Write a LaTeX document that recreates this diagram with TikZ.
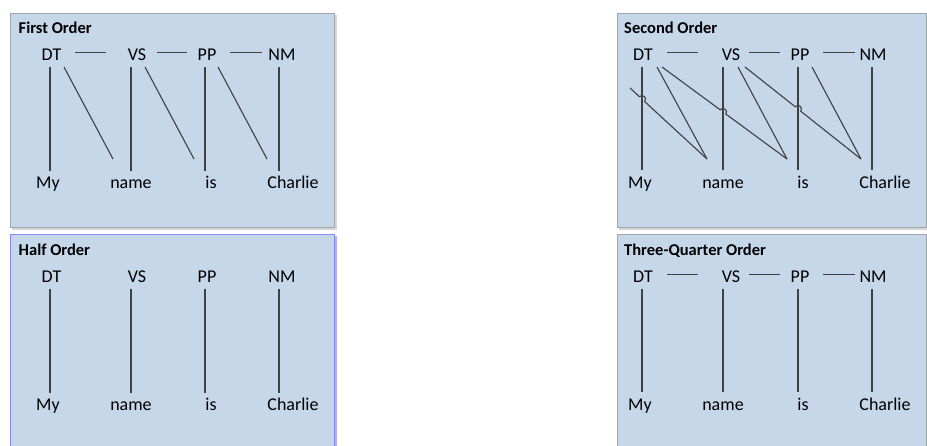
\documentclass[tikz,border=0pt]{standalone}
\usepackage{fontspec}
\setmainfont{Carlito}
\usetikzlibrary{calc}

\definecolor{panelfill}{RGB}{197,215,232}
\definecolor{panelrule}{RGB}{160,166,172}
\definecolor{panelshade}{RGB}{214,214,214}
\definecolor{halfrule}{RGB}{135,135,245}
\definecolor{halfshade}{RGB}{178,178,250}
\definecolor{inkline}{RGB}{64,64,64}

\tikzset{
  panel/.style={fill=panelfill, draw=panelrule, line width=0.8pt},
  halfpanel/.style={fill=panelfill, draw=halfrule, line width=0.8pt},
  paneltitle/.style={anchor=base west, inner sep=0pt, font=\fontsize{16.5}{19}\selectfont\bfseries},
  tag/.style={anchor=base, inner sep=0pt, font=\fontsize{18}{21}\selectfont},
  word/.style={tag},
  link/.style={draw=inkline, line width=1.1pt},
}

\begin{document}
\begin{tikzpicture}[x=1pt,y=-1pt]
\useasboundingbox (0,0) rectangle (927,445);
\fill[white] (0,0) rectangle (927,445);
\clip (0,0) rectangle (927,445);

% ---------- panel backgrounds ----------
\fill[panelshade] (12,15) rectangle (337,230);
\draw[panel] (10,13) rectangle (334,227);
\fill[halfshade] (12,236) rectangle (337,460);
\draw[halfpanel] (10,234) rectangle (334,460);
\fill[panelshade] (619,15) rectangle (930,230);
\draw[panel] (617,13) rectangle (926,227);
\fill[panelshade] (619,236) rectangle (930,460);
\draw[panel] (617,234) rectangle (926,460);

% ---------- First Order ----------
\node[paneltitle] (a-title) at (18.5,33) {First Order};
\node[tag] (a-DT) at (51.5,60) {DT};
\node[tag] (a-VS) at (137,60) {VS};
\node[tag] (a-PP) at (207,60) {PP};
\node[tag] (a-NM) at (282,60) {NM};
\node[word] (a-My) at (48,188.5) {My};
\node[word] (a-name) at (131,188.5) {name};
\node[word] (a-is) at (211,188.5) {is};
\node[word] (a-Charlie) at (293,188.5) {Charlie};
% tag chain
\draw[link] ($(a-DT.base)+(23.5,-7.5)$) -- ($(a-VS.base)+(-31,-7.5)$);
\draw[link] ($(a-VS.base)+(20,-7.5)$) -- ($(a-PP.base)+(-20,-7.5)$);
\draw[link] ($(a-PP.base)+(23,-7.5)$) -- ($(a-NM.base)+(-20,-7.5)$);
% tag to own word
\draw[link] ($(a-DT.base)+(-1.5,7)$) -- ($(a-My.base)+(2,-17.5)$);
\draw[link] ($(a-VS.base)+(-6,7)$) -- ($(a-name.base)+(0,-17.5)$);
\draw[link] ($(a-PP.base)+(-2,7)$) -- ($(a-is.base)+(-6,-17.5)$);
\draw[link] ($(a-NM.base)+(-3,7)$) -- ($(a-Charlie.base)+(-14,-17.5)$);
% tag to next word
\draw[link] ($(a-DT.base)+(12.5,7)$) -- ($(a-name.base)+(-18,-29.5)$);
\draw[link] ($(a-VS.base)+(8,7)$) -- ($(a-is.base)+(-17,-29.5)$);
\draw[link] ($(a-PP.base)+(11,7)$) -- ($(a-Charlie.base)+(-26,-29.5)$);

% ---------- Half Order ----------
\node[paneltitle] (b-title) at (18.5,255) {Half Order};
\node[tag] (b-DT) at (51.5,282) {DT};
\node[tag] (b-VS) at (137,282) {VS};
\node[tag] (b-PP) at (207,282) {PP};
\node[tag] (b-NM) at (282,282) {NM};
\node[word] (b-My) at (48,410.5) {My};
\node[word] (b-name) at (131,410.5) {name};
\node[word] (b-is) at (211,410.5) {is};
\node[word] (b-Charlie) at (293,410.5) {Charlie};
\draw[link] ($(b-DT.base)+(-1.5,7)$) -- ($(b-My.base)+(2,-17.5)$);
\draw[link] ($(b-VS.base)+(-6,7)$) -- ($(b-name.base)+(0,-17.5)$);
\draw[link] ($(b-PP.base)+(-2,7)$) -- ($(b-is.base)+(-6,-17.5)$);
\draw[link] ($(b-NM.base)+(-3,7)$) -- ($(b-Charlie.base)+(-14,-17.5)$);

% ---------- Second Order ----------
\node[paneltitle] (c-title) at (624,33) {Second Order};
\node[tag] (c-DT) at (643,60) {DT};
\node[tag] (c-VS) at (731,60) {VS};
\node[tag] (c-PP) at (800,60) {PP};
\node[tag] (c-NM) at (873,60) {NM};
\node[word] (c-My) at (640,188.5) {My};
\node[word] (c-name) at (723,188.5) {name};
\node[word] (c-is) at (803,188.5) {is};
\node[word] (c-Charlie) at (885,188.5) {Charlie};
\draw[link] ($(c-DT.base)+(24,-7.5)$) -- ($(c-VS.base)+(-33,-7.5)$);
\draw[link] ($(c-VS.base)+(18,-7.5)$) -- ($(c-PP.base)+(-20,-7.5)$);
\draw[link] ($(c-PP.base)+(23,-7.5)$) -- ($(c-NM.base)+(-18,-7.5)$);
\draw[link] ($(c-DT.base)+(-1,7)$) -- ($(c-My.base)+(2,-18.5)$);
\draw[link] ($(c-VS.base)+(-8,7)$) -- ($(c-name.base)+(0,-18.5)$);
\draw[link] ($(c-PP.base)+(-2,7)$) -- ($(c-is.base)+(-5,-18.5)$);
\draw[link] ($(c-NM.base)+(-1,7)$) -- ($(c-Charlie.base)+(-13,-18.5)$);
\draw[link] ($(c-DT.base)+(14,7)$) -- ($(c-name.base)+(-16,-29.5)$);
\draw[link] ($(c-VS.base)+(7,7)$) -- ($(c-is.base)+(-16,-29.5)$);
\draw[link] ($(c-PP.base)+(12,7)$) -- ($(c-Charlie.base)+(-24,-29.5)$);
% two-back links, hopping over the vertical links they cross
\coordinate (c-prev) at (630,88);
\draw[link] (c-prev) -- (639.4,96.7)
  .. controls (642.6,93.3) and (647.8,98.1) .. (644.6,101.5)
  -- ($(c-name.base)+(-16,-29.5)$);
\draw[link] ($(c-DT.base)+(19,7)$) -- (720.2,109.8)
  .. controls (723.0,106.0) and (728.6,110.3) .. (725.8,114.0)
  -- ($(c-is.base)+(-16,-29.5)$);
\draw[link] ($(c-VS.base)+(14,7)$) -- (795.3,106.8)
  .. controls (798.2,103.2) and (803.6,107.5) .. (800.7,111.2)
  -- ($(c-Charlie.base)+(-24,-29.5)$);

% ---------- Three-Quarter Order ----------
\node[paneltitle] (d-title) at (624,255) {Three-Quarter Order};
\node[tag] (d-DT) at (643,282) {DT};
\node[tag] (d-VS) at (731,282) {VS};
\node[tag] (d-PP) at (800,282) {PP};
\node[tag] (d-NM) at (873,282) {NM};
\node[word] (d-My) at (640,410.5) {My};
\node[word] (d-name) at (723,410.5) {name};
\node[word] (d-is) at (803,410.5) {is};
\node[word] (d-Charlie) at (885,410.5) {Charlie};
\draw[link] ($(d-DT.base)+(24,-7.5)$) -- ($(d-VS.base)+(-33,-7.5)$);
\draw[link] ($(d-VS.base)+(18,-7.5)$) -- ($(d-PP.base)+(-20,-7.5)$);
\draw[link] ($(d-PP.base)+(23,-7.5)$) -- ($(d-NM.base)+(-18,-7.5)$);
\draw[link] ($(d-DT.base)+(-1,7)$) -- ($(d-My.base)+(2,-18.5)$);
\draw[link] ($(d-VS.base)+(-8,7)$) -- ($(d-name.base)+(0,-18.5)$);
\draw[link] ($(d-PP.base)+(-2,7)$) -- ($(d-is.base)+(-5,-18.5)$);
\draw[link] ($(d-NM.base)+(-1,7)$) -- ($(d-Charlie.base)+(-13,-18.5)$);
\end{tikzpicture}
\end{document}
